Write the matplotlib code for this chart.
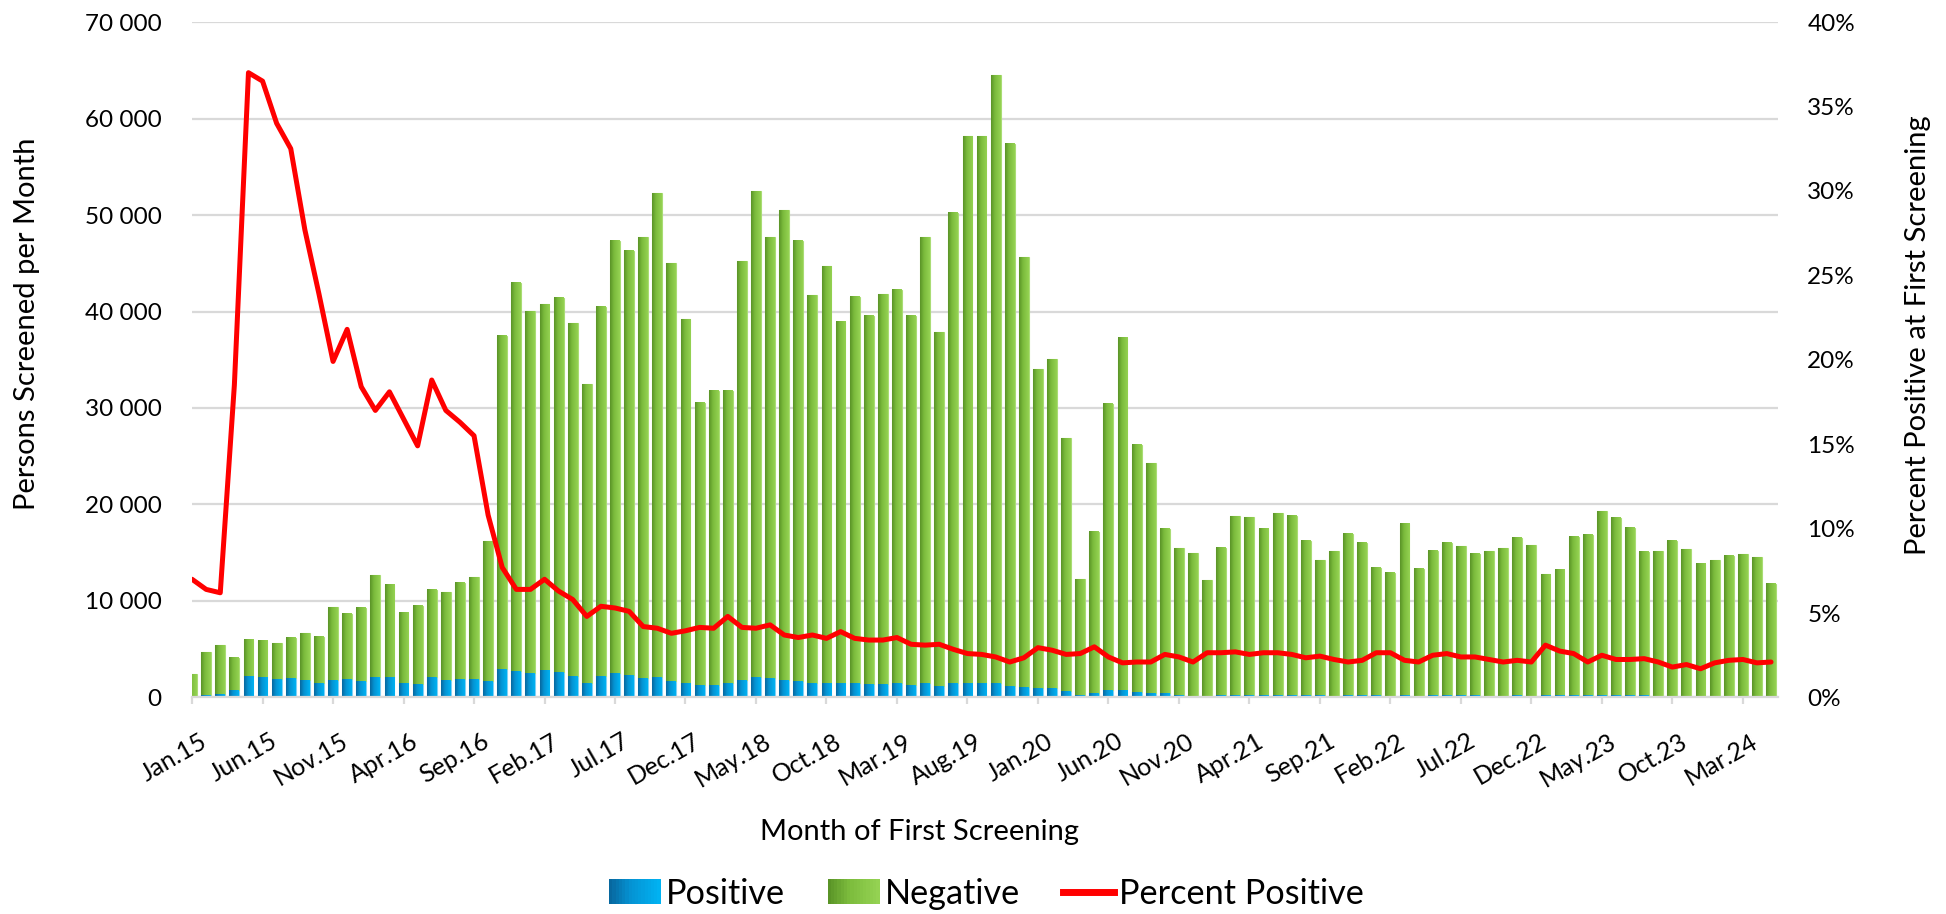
import numpy as np
import matplotlib
matplotlib.use("Agg")
import matplotlib.pyplot as plt
from matplotlib.colors import LinearSegmentedColormap
from matplotlib.legend_handler import HandlerBase
from matplotlib.patches import Rectangle, Patch
from matplotlib.lines import Line2D
from matplotlib.ticker import FuncFormatter, PercentFormatter, FixedLocator
import matplotlib.transforms as mtrans

plt.rcParams['font.family'] = ['Lato', 'DejaVu Sans']

# persons screened per month, Jan.15 .. May.24
total = [2400, 4700, 5400, 4100, 6000, 5900, 5600, 6150, 6650, 6300,
         9400, 8700, 9300, 12700, 11700, 8800, 9500, 11150, 10950, 11900,
         12500, 16250, 37500, 43000, 40050, 40750, 41450, 38800, 32500, 40500,
         47300, 46300, 47700, 52250, 45000, 39250, 30500, 31800, 31800, 45250,
         52450, 47700, 50500, 47300, 41750, 44750, 38950, 41500, 39500, 41800,
         42250, 39550, 47700, 37850, 50250, 58150, 58150, 64550, 57400, 45600,
         34050, 35050, 26850, 12300, 17200, 30400, 37300, 26150, 24250, 17450,
         15450, 15000, 12150, 15500, 18850, 18700, 17500, 19150, 18850, 16200,
         14200, 15150, 16950, 16000, 13400, 12950, 18000, 13350, 15200, 16050,
         15650, 14900, 15150, 15500, 16550, 15750, 12750, 13250, 16650, 16850,
         19300, 18600, 17600, 15100, 15150, 16250, 15350, 13850, 14200, 14700,
         14850, 14550, 11800]

positive = [170, 300, 330, 750, 2200, 2150, 1900, 2000, 1850, 1500,
            1850, 1900, 1700, 2150, 2100, 1450, 1400, 2100, 1850, 1950,
            1950, 1750, 2900, 2750, 2550, 2850, 2600, 2250, 1550, 2200,
            2500, 2350, 2000, 2150, 1700, 1550, 1250, 1300, 1500, 1850,
            2150, 2050, 1850, 1700, 1550, 1550, 1500, 1450, 1350, 1400,
            1500, 1250, 1500, 1200, 1450, 1500, 1500, 1550, 1200, 1050,
            1000, 1000, 700, 300, 500, 750, 750, 550, 500, 450,
            220, 200, 180, 220, 300, 290, 280, 300, 290, 230,
            210, 200, 210, 210, 210, 200, 240, 170, 230, 250,
            220, 220, 200, 200, 220, 200, 240, 220, 260, 220,
            290, 250, 240, 210, 190, 180, 180, 150, 180, 190,
            200, 180, 150]

pct_positive = [7.0, 6.4, 6.2, 18.5, 37.0, 36.5, 34.0, 32.5, 27.7, 23.9,
                19.9, 21.8, 18.4, 17.0, 18.1, 16.5, 14.9, 18.8, 17.0, 16.3,
                15.5, 10.8, 7.7, 6.4, 6.4, 7.0, 6.3, 5.8, 4.8, 5.4,
                5.3, 5.1, 4.2, 4.1, 3.8, 3.95, 4.15, 4.1, 4.8, 4.15,
                4.1, 4.3, 3.7, 3.55, 3.7, 3.5, 3.9, 3.5, 3.4, 3.4,
                3.55, 3.15, 3.1, 3.15, 2.85, 2.6, 2.55, 2.4, 2.1, 2.35,
                2.95, 2.8, 2.55, 2.6, 3.0, 2.4, 2.05, 2.1, 2.1, 2.55,
                2.4, 2.1, 2.65, 2.65, 2.7, 2.55, 2.65, 2.65, 2.55, 2.35,
                2.45, 2.25, 2.1, 2.2, 2.65, 2.65, 2.2, 2.1, 2.5, 2.6,
                2.4, 2.4, 2.25, 2.1, 2.2, 2.1, 3.1, 2.75, 2.6, 2.1,
                2.5, 2.25, 2.25, 2.3, 2.1, 1.8, 1.95, 1.7, 2.05, 2.2,
                2.25, 2.05, 2.1]

tick_labels = ["Jan.15", "Jun.15", "Nov.15", "Apr.16", "Sep.16", "Feb.17", "Jul.17",
               "Dec.17", "May.18", "Oct.18", "Mar.19", "Aug.19", "Jan.20", "Jun.20",
               "Nov.20", "Apr.21", "Sep.21", "Feb.22", "Jul.22", "Dec.22", "May.23",
               "Oct.23", "Mar.24"]

GREEN = [(0.0, "#5a9427"), (0.4, "#7bbb3c"), (1.0, "#94d252")]
BLUE = [(0.0, "#07689f"), (0.4, "#0592d2"), (1.0, "#00b2f2")]
GRID = "#d9d9d9"


def fill_gradient(ax, bars, colors):
    # excel style left-to-right gradient inside each bar
    cmap = LinearSegmentedColormap.from_list("g", colors)
    grad = np.linspace(0, 1, 32).reshape(1, -1)
    for b in bars:
        x, y = b.get_x(), b.get_y()
        w, h = b.get_width(), b.get_height()
        if h <= 0:
            continue
        ax.imshow(grad, cmap=cmap, extent=(x, x + w, y, y + h),
                  aspect="auto", interpolation="bilinear", zorder=2)
        b.set_facecolor("none")


class GradientHandler(HandlerBase):
    def __init__(self, colors):
        super().__init__()
        self.cmap = LinearSegmentedColormap.from_list("h", colors)

    def create_artists(self, legend, orig_handle, xdescent, ydescent,
                       width, height, fontsize, trans):
        n = 16
        arts = []
        for k in range(n):
            r = Rectangle((-xdescent + width * k / n, -ydescent), width / n + 0.3, height,
                          facecolor=self.cmap(k / (n - 1)), edgecolor="none", transform=trans)
            arts.append(r)
        return arts


fig = plt.figure(figsize=(19.46, 9.14), dpi=100)
ax = fig.add_axes([0.0987, 0.2369, 0.9137 - 0.0987, 0.9759 - 0.2369])

x = np.arange(len(total))
pos = np.array(positive)
neg = np.array(total) - pos

bars_pos = ax.bar(x, pos, width=0.7, edgecolor="#7fd0f5", linewidth=0.8, zorder=2)
bars_neg = ax.bar(x, neg, bottom=pos, width=0.7, edgecolor="#a9dc74", linewidth=0.8, zorder=2)
fill_gradient(ax, bars_pos, BLUE)
fill_gradient(ax, bars_neg, GREEN)

ax.set_xlim(0, 112.5)
ax.set_ylim(0, 70000)
ax.set_axisbelow(True)
ax.yaxis.grid(True, color=GRID, linewidth=1.6)
for s in ["top", "right", "left"]:
    ax.spines[s].set_visible(False)
ax.spines["bottom"].set_color(GRID)
ax.spines["bottom"].set_linewidth(1.6)
ax.spines["bottom"].set_zorder(3)

ax.yaxis.set_major_locator(FixedLocator(np.arange(0, 70001, 10000)))
ax.yaxis.set_major_formatter(FuncFormatter(lambda v, p: f"{int(v):,}".replace(",", " ")))
ax.tick_params(axis="y", length=0, pad=22, labelsize=17.5)

ax.set_xticks(np.arange(0, len(total), 5))
ax.set_xticklabels(tick_labels, rotation=30, ha="right", va="top", rotation_mode="anchor")
ax.tick_params(axis="x", length=5, width=1.6, color=GRID, pad=18, labelsize=18)
shift = mtrans.ScaledTranslation(7 / 100, 0, fig.dpi_scale_trans)
for lab in ax.get_xticklabels():
    lab.set_transform(lab.get_transform() + shift)

ax2 = ax.twinx()
line, = ax2.plot(x, pct_positive, color="#ff0000", linewidth=3.6,
                 solid_joinstyle="round", solid_capstyle="round", zorder=4)
ax2.set_ylim(0, 40)
ax2.set_xlim(0, 112.5)
ax2.yaxis.set_major_locator(FixedLocator(np.arange(0, 41, 5)))
ax2.yaxis.set_major_formatter(PercentFormatter(xmax=100, decimals=0))
ax2.tick_params(axis="y", length=0, pad=21, labelsize=17.5)
for s in ax2.spines.values():
    s.set_visible(False)

fig.text(0.0141, 0.6455, "Persons Screened per Month", rotation=90,
         ha="center", va="center", fontsize=21)
fig.text(0.9855, 0.633, "Percent Positive at First Screening", rotation=90,
         ha="center", va="center", fontsize=21)
fig.text(0.4725, 0.09, "Month of First Screening", ha="center", va="center", fontsize=21)

h_pos = Patch(label="Positive")
h_neg = Patch(label="Negative")
h_line = Line2D([], [], color="#ff0000", linewidth=5, label="Percent Positive")
fig.legend(handles=[h_pos, h_neg, h_line], loc="center", bbox_to_anchor=(0.507, 0.022),
           ncol=3, frameon=False, fontsize=24.7, handlelength=1.5, handleheight=0.75,
           handletextpad=0.15, columnspacing=1.25,
           handler_map={h_pos: GradientHandler(BLUE), h_neg: GradientHandler(GREEN)})

fig.savefig("out.png", dpi=100)
